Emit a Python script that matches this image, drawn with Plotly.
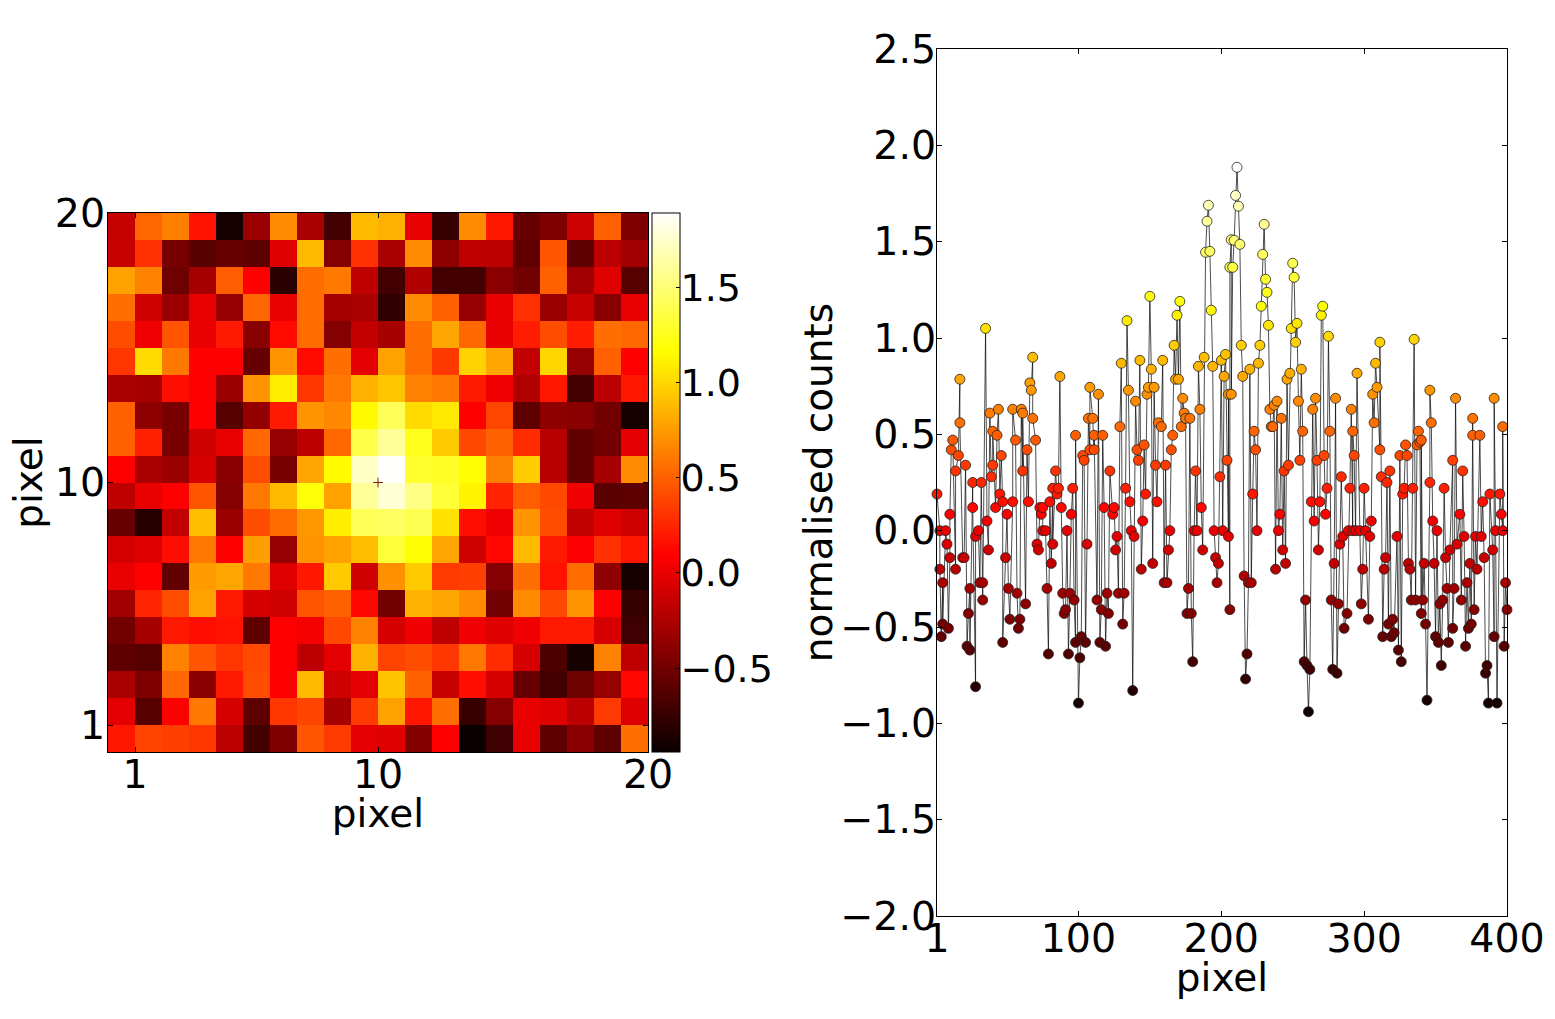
"""Stamp of a source (left) and the same counts along the pixel run (right)."""
import numpy as np
import plotly.graph_objects as go

W, H = 1555, 1019

# Stamp values, one list per row, row 1 at the bottom of the picture
row01 = [.19, .38, .36, .32, -.2, -.7, -.45, .45, .34, -.02, -.04, -.43, .09, -.94, -.72, 0, -.58, -.4, -.58, .56]
row02 = [-.02, -.62, .09, .6, -.08, -.58, .32, .38, -.28, .34, .78, .18, .56, -.74, -.42, 0, -.04, -.2, .34, -.05]
row03 = [-.26, -.45, .53, -.4, .2, .42, .09, .88, -.11, -.02, .92, .5, -.14, .15, -.08, -.55, -.7, -.52, -.35, .12]
row04 = [-.58, -.62, .64, .45, .32, .4, .09, -.2, -.02, .84, .38, .42, .32, .6, .28, -.08, -.66, -.89, .64, -.18]
row05 = [-.5, -.28, .2, .15, .17, -.58, .09, .05, .4, .64, -.08, .03, -.18, .03, -.04, .03, .2, .2, -.08, -.72]
row06 = [-.3, .25, .42, .78, .2, -.08, -.11, .45, .5, .12, -.5, .85, .8, .68, -.5, .68, .4, .72, .09, -.75]
row07 = [0, .09, -.57, .75, .8, .6, -.04, .19, .95, -.11, .7, .95, .34, .36, -.42, .56, .17, .55, -.38, -.89]
row08 = [-.09, -.04, .15, .6, .09, .76, -.35, .72, .78, .9, 1.33, 1.18, .8, -.11, .12, .88, .2, .07, .3, .18]
row09 = [-.55, -.82, -.16, .9, -.33, .42, .55, .73, 1.1, 1.42, 1.45, 1.4, 1.05, .15, .03, .72, .42, -.17, -.04, -.11]
row10 = [-.18, 0, .09, .45, -.42, .6, .88, 1.2, .78, 1.6, 1.76, 1.55, 1.33, 1.12, .24, .49, .4, .03, -.6, -.58]
row11 = [.09, -.26, -.33, -.08, -.4, .42, -.47, .8, 1.16, 1.72, 1.88, 1.3, 1.28, 1.18, .63, .96, -.21, -.57, -.28, .68]
row12 = [.5, .23, -.47, -.11, 0, .53, -.35, -.2, .53, 1.38, 1.6, 1.25, .95, .4, .5, .28, -.21, -.57, -.5, -.02]
row13 = [.5, -.38, -.47, .09, -.62, -.36, .2, .72, .67, 1.15, 1.42, 1.02, 1.08, .09, .39, -.58, -.38, -.4, -.5, -.89]
row14 = [-.26, -.28, .15, .09, -.33, .72, 1.1, .32, .6, .84, .93, .64, .6, .2, .03, -.24, .19, -.7, -.2, .19]
row15 = [.32, 1.02, .6, .09, .09, -.55, .72, .13, .56, -.02, .78, .55, .33, .98, .8, -.16, 1.0, -.35, .5, .09]
row16 = [.42, .03, .45, 0, .2, -.4, .13, .55, -.42, -.16, -.28, .56, .8, .53, 0, .21, .42, .21, .56, .53]
row17 = [.56, -.1, -.33, 0, -.35, .52, 0, .55, -.28, -.26, -.78, .68, .5, -.35, 0, .3, -.33, -.14, -.4, 0]
row18 = [.78, .64, -.52, -.28, .49, .09, -.8, .55, .6, -.18, -.7, -.24, -.7, -.7, -.4, -.5, .5, -.3, -.04, -.62]
row19 = [-.14, .3, -.47, -.62, -.55, -.58, -.04, .88, -.42, .3, -.27, .68, -.38, -.18, -.2, -.57, .46, -.58, -.2, -.3]
row20 = [-.15, .52, .63, .17, -.89, -.33, .68, -.27, -.7, .88, .84, 0, -.74, .68, .19, -.55, -.45, -.12, .5, -.45]

centre_x = [10]
centre_y = [10]

# Points, lower half, pixel < 206
pixel_a = [1, 3, 7, 8, 10, 3, 14, 5, 10, 11, 16, 14, 21, 19, 20, 26, 32, 26, 24, 23, 22, 24, 28, 5, 9, 4,
           39, 40, 46, 45, 47, 54, 42, 50, 36, 30, 28, 37, 49, 31, 33, 33, 51, 57, 52, 59, 58, 63, 47,
           61, 64, 65, 73, 75, 74, 80, 85, 82, 86, 84, 88, 95, 96, 75, 77, 92, 71, 72, 82, 81, 78, 89,
           94, 97, 91, 90, 79, 93, 101, 98, 102, 105, 100, 106, 103, 104, 108, 111, 122, 118, 125, 124,
           113, 116, 121, 120, 127, 126, 128, 132, 131, 115, 119, 138, 133, 136, 137, 139, 145, 147,
           155, 144, 152, 141, 146, 142, 154, 161, 165, 182, 164, 163, 160, 162, 177, 176, 179, 180,
           181, 183, 186, 187, 195, 201, 196, 198, 197, 199, 204, 205, 206]
counts_a = [.19, 0, 0, -.07, -.14, -.2, -.2, -.27, .085, .42, .39, .31, .34, -.14, -.14, .25, .25, .12, -.3, -.43, -.6, -.62, -.81, -.485, -.507, -.55,
            .28, .34, .39, .19, .15, .15, .12, .085, .05, 0, -.03, -.1, -.14, -.27, -.27, -.36, -.3, -.325, -.46, -.46, -.507, -.38, -.58,
            .31, .42, .15, .12, .12, .085, .15, .19, .22, .22, .31, .12, .085, .22, 0, 0, 0, -.07, -.1, -.07, -.17, -.3, -.325,
            -.325, -.36, -.41, -.43, -.64, -.64, -.66, -.58, -.55, -.58, -.895, -.07, .39, .365, .42, .42, .31, .12, .12, .085,
            -.36, -.41, -.43, -.325, -.03, -.1, -.325, -.325, -.485, -.58, -.6, -.83, .22, .15, 0, -.03, .05, .19,
            .15, -.2, -.17, .42, .445, .365, .34, .34, .42, .31, 0, -.1, -.27, -.27, -.3, -.43, -.43, -.68,
            0, 0, .12, -.1, 0, 0, -.14, -.17, -.27, .28, .365, -.03, -.41]

# Lower half, pixel > 206
pixel_b = [224, 222, 225, 216, 219, 221, 218, 217, 244, 247, 241, 240, 243, 245, 238, 255, 267, 272, 263, 269,
           274, 273, 265, 268, 259, 258, 260, 262, 261, 277, 282, 288, 286, 278, 281, 279, 284, 290, 300,
           289, 293, 283, 285, 292, 294, 297, 301, 305, 304, 299, 298, 303, 311, 312, 318, 316, 323, 315,
           314, 320, 317, 321, 313, 319, 325, 324, 326, 330, 329, 337, 339, 327, 328, 334, 331, 332, 333,
           336, 341, 340, 343, 342, 349, 344, 346, 348, 351, 356, 362, 369, 367, 370, 365, 360, 357, 374,
           379, 372, 358, 363, 353, 355, 368, 377, 362, 350, 352, 359, 371, 373, 375, 354, 383, 388, 395,
           396, 378, 382, 392, 397, 390, 384, 391, 386, 385, 387, 393, 399, 400, 398]
counts_b = [.42, .19, 0, -.235, -.27, -.27, -.64, -.77, .31, .34, .085, 0, -.1, -.17, -.2, .365, .365, .39, .15, .15,
            .22, .085, .05, -.1, -.36, -.68, -.7, -.72, -.94, -.36, -.38, -.43, -.507, -.72, -.74, -.17, .28, .22, .22,
            0, .39, -.07, -.03, 0, 0, 0, 0, .05, -.03, -.2, -.38, -.46, .42, .28, .31, .25, -.03, -.14,
            -.2, -.46, -.485, -.53, -.55, -.55, .39, -.62, -.68, .39, .445, .445, .46, .19, .22, .22, -.17, -.2, -.36,
            -.36, -.36, -.43, -.485, -.17, -.17, -.88, .25, .05, 0, .22, .365, .31, .085, -.03, -.07, -.1, -.14, -.17,
            -.2, -.27, -.3, -.3, -.38, -.36, -.36, -.41, -.507, -.55, -.58, -.58, -.6, -.507, -.485, -.7, .15, .19, .19,
            .085, -.03, -.03, 0, 0, -.1, -.14, -.55, -.7, -.74, -.895, -.895, -.27, -.41, -.6]

# Upper half, pixel < 206
pixel_c = [17, 17, 12, 35, 38, 44, 40, 43, 54, 60, 61, 56, 66, 67, 68, 68, 70, 87, 98, 108, 114, 107, 110, 111, 117,
           129, 130, 134, 135, 140, 143, 151, 150, 148, 149, 153, 159, 156, 158, 166, 167, 168, 170, 169, 171,
           173, 174, 175, 178, 172, 185, 184, 188, 194, 193, 189, 192, 190, 191, 200, 203, 202, 205, 206, 207]
counts_c = [.786, .56, .47, 1.05, .61, .63, .516, .495, .63, .63, .61, .47, .767, .729, .9, .583, .47, .8, .495, .744, .708, .583, .583, .495, .495,
            .54, .869, 1.09, .729, .672, .884, .838, 1.216, .708, .744, .744, .884, .56, .54, .495, .962, .786, .786, 1.118, 1.19,
            .687, .61, .583, .583, .54, .63, .853, .9, .853, 1.144, 1.445, 1.45, 1.606, 1.689, .884, .915, .801, .708, 1.367, 1.51]

# Upper half, pixel > 206
pixel_d = [211, 210, 212, 209, 213, 208, 214, 207, 215, 220, 226, 227, 223, 230, 229, 231, 232, 228, 233, 239, 237, 234,
           242, 235, 236, 250, 251, 253, 249, 252, 256, 248, 246, 254, 257, 266, 264, 276, 271, 270, 275, 280, 291,
           292, 295, 308, 311, 309, 306, 307, 335, 346, 347, 338, 340, 364, 376, 376, 381, 391, 397]
counts_d = [1.886, 1.74, 1.684, 1.507, 1.486, 1.367, .962, .708, .801, .838, .869, .962, .516, 1.59, 1.434, 1.305, 1.237, 1.165, 1.066, .672, .651, .63,
            .583, .54, .54, 1.388, 1.315, 1.076, 1.05, .978, .838, .817, .786, .672, .516, .687, .63, .516, 1.165, 1.118, 1.009, .687, .63,
            .516, .817, .869, .978, .744, .708, .56, .993, .729, .56, .516, .47, .687, .583, .495, .495, .687, .54]

# matplotlib "hot"
HOT = [[0, "rgb(10,0,0)"], [.365, "rgb(255,0,0)"], [.746, "rgb(255,255,0)"], [1, "rgb(255,255,255)"]]
ZMIN, ZMAX = -0.94, 1.89
FONT = "DejaVu Sans"
SIZE = 39.5


def axis_style(text, standoff, label_shift, **kw):
    return dict(showline=True, mirror="allticks", linecolor="black", linewidth=1, ticks="inside",
                ticklen=5, tickcolor="black", showgrid=False, zeroline=False, automargin=False,
                tickfont=dict(size=SIZE), ticklabelstandoff=label_shift,
                title=dict(text=text, standoff=standoff, font=dict(size=39)), **kw)


grid = np.array([row01, row02, row03, row04, row05, row06, row07, row08, row09, row10,
                 row11, row12, row13, row14, row15, row16, row17, row18, row19, row20])
cells = np.arange(20) + 0.5

pixels = np.array(pixel_a + pixel_b + pixel_c + pixel_d)
counts = np.array(counts_a + counts_b + counts_c + counts_d)
order = np.argsort(pixels, kind="stable")

fig = go.Figure()
fig.add_trace(go.Heatmap(x=cells, y=cells, z=grid, coloraxis="coloraxis", zsmooth=False,
                         xaxis="x", yaxis="y"))
fig.add_trace(go.Scatter(x=centre_x, y=centre_y, mode="markers", xaxis="x", yaxis="y", showlegend=False,
                         marker=dict(symbol="cross-thin", size=7, line=dict(color="#802018", width=1))))
fig.add_trace(go.Scatter(x=pixels[order], y=counts[order], mode="lines+markers", xaxis="x2", yaxis="y2",
                         showlegend=False, line=dict(color="black", width=0.7), cliponaxis=False,
                         marker=dict(size=10, color=counts[order], coloraxis="coloraxis",
                                     line=dict(color="#222222", width=0.8))))

fig.update_layout(
    width=W, height=H, margin=dict(l=0, r=0, t=0, b=0, autoexpand=False), showlegend=False,
    paper_bgcolor="white", plot_bgcolor="white",
    font=dict(family=FONT, size=SIZE, color="black"),
    coloraxis=dict(
        colorscale=HOT, cmin=ZMIN, cmax=ZMAX,
        colorbar=dict(x=652 / W, xanchor="left", xpad=0, ypad=0, y=1 - 213 / H, yanchor="top",
                      lenmode="pixels", len=539, thicknessmode="pixels", thickness=28,
                      outlinecolor="black", outlinewidth=1, ticks="inside", ticklen=4, tickcolor="black",
                      tickvals=[-.5, 0, .5, 1, 1.5], ticktext=["\u22120.5", "0.0", "0.5", "1.0", "1.5"],
                      tickfont=dict(size=38))),
    xaxis=axis_style("pixel", 2, -12, domain=[108 / W, 648 / W], range=[0, 20], tickvals=[1, 10, 20], anchor="y"),
    yaxis=axis_style("pixel", 0, -6, domain=[1 - 752 / H, 1 - 213 / H], range=[0, 20], tickvals=[1, 10, 20], anchor="x"),
    xaxis2=axis_style("pixel", 2, -12, domain=[937 / W, 1507 / W], range=[1, 400], tickvals=[1, 100, 200, 300, 400],
                      anchor="y2"),
    yaxis2=axis_style("normalised counts", 0, -8, domain=[1 - 916 / H, 1 - 49 / H], range=[-2, 2.5], dtick=0.5, tick0=-2,
                      tickformat=".1f", anchor="x2"),
)

# standoff cannot bring these texts close enough, so nudge them with a stylesheet
CSS = (".colorbar text{translate:-8px 0}"
       ".xtitle,.x2title{translate:0 -6px}"
       ".y2title{translate:5px 0}")
SETUP = ("document.body.style.margin='0';"
         "var s=document.createElement('style');s.textContent='" + CSS + "';document.head.appendChild(s);")
fig.write_html("out.html", post_script=SETUP, config=dict(displayModeBar=False))
